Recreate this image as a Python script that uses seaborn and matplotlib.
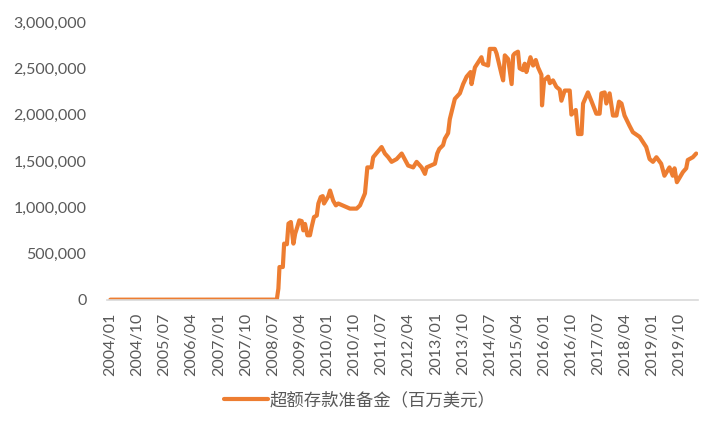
import pandas as pd
import numpy as np
import seaborn as sns
import matplotlib.pyplot as plt
import matplotlib.dates as mdates
from matplotlib.ticker import FuncFormatter

# excess reserves, millions of USD
dates = ['2004-01-01', '2005-06-01', '2006-09-01', '2007-12-01', '2008-08-09',
         '2008-08-25', '2008-09-05', '2008-10-09', '2008-10-22', '2008-11-19',
         '2008-12-05', '2008-12-29', '2009-01-24', '2009-02-11', '2009-03-04',
         '2009-03-24', '2009-04-18', '2009-05-04', '2009-05-21', '2009-06-14',
         '2009-07-10', '2009-07-27', '2009-08-20', '2009-09-17', '2009-10-03',
         '2009-10-27', '2009-11-16', '2009-11-29', '2010-01-12', '2010-01-29',
         '2010-03-02', '2010-03-29', '2010-04-22', '2010-07-15', '2010-08-18',
         '2010-10-25', '2010-11-28', '2011-01-17', '2011-02-10', '2011-03-24',
         '2011-04-10', '2011-07-04', '2011-08-06', '2011-09-09', '2011-10-13',
         '2011-12-03', '2012-01-23', '2012-03-28', '2012-05-18', '2012-06-22',
         '2012-08-11', '2012-09-14', '2012-10-01', '2012-12-24', '2013-01-16',
         '2013-02-06', '2013-03-16', '2013-04-03', '2013-05-06', '2013-05-23',
         '2013-07-13', '2013-09-02', '2013-10-05', '2013-11-09', '2013-12-19',
         '2013-12-29', '2014-02-01', '2014-04-08', '2014-04-24', '2014-06-14',
         '2014-07-01', '2014-08-21', '2014-09-08', '2014-10-27', '2014-11-13',
         '2014-11-30', '2015-01-03', '2015-02-07', '2015-02-23', '2015-03-10',
         '2015-04-12', '2015-04-29', '2015-06-02', '2015-06-19', '2015-07-06',
         '2015-08-16', '2015-09-12', '2015-10-09', '2015-11-01', '2015-12-05',
         '2015-12-11', '2016-01-01', '2016-02-11', '2016-02-28', '2016-03-31',
         '2016-05-04', '2016-06-07', '2016-06-24', '2016-07-27', '2016-09-16',
         '2016-10-03', '2016-11-16', '2016-12-09', '2017-01-13', '2017-01-29',
         '2017-03-19', '2017-04-22', '2017-06-12', '2017-07-15', '2017-08-02',
         '2017-09-04', '2017-09-21', '2017-10-24', '2017-11-27', '2018-01-01',
         '2018-01-27', '2018-02-21', '2018-03-24', '2018-05-13', '2018-06-16',
         '2018-08-23', '2018-10-29', '2018-12-02', '2019-01-05', '2019-02-09',
         '2019-03-29', '2019-05-01', '2019-06-21', '2019-07-24', '2019-08-11',
         '2019-09-04', '2019-11-04', '2019-12-07', '2019-12-23', '2020-02-12',
         '2020-03-17']
reserves = [1500, 1800, 1700, 1900, 2000,
            121000, 354000, 354000, 607000, 600000,
            823000, 840000, 607000, 715000, 786000,
            858000, 850000, 750000, 820000, 697000,
            697000, 786000, 894000, 910000, 1040000,
            1110000, 1120000, 1040000, 1120000, 1180000,
            1070000, 1020000, 1040000, 1000000, 985000,
            985000, 1020000, 1150000, 1430000, 1430000,
            1540000, 1650000, 1580000, 1540000, 1490000,
            1520000, 1580000, 1450000, 1430000, 1490000,
            1430000, 1360000, 1430000, 1470000, 1580000,
            1630000, 1670000, 1740000, 1800000, 1950000,
            2170000, 2230000, 2330000, 2410000, 2460000,
            2330000, 2510000, 2620000, 2550000, 2530000,
            2710000, 2710000, 2660000, 2440000, 2370000,
            2640000, 2600000, 2330000, 2640000, 2660000,
            2680000, 2500000, 2480000, 2550000, 2460000,
            2620000, 2530000, 2590000, 2510000, 2430000,
            2100000, 2370000, 2410000, 2340000, 2370000,
            2300000, 2270000, 2150000, 2260000, 2260000,
            2000000, 2050000, 1790000, 1790000, 2120000,
            2240000, 2150000, 2010000, 2010000, 2230000,
            2240000, 2120000, 2230000, 1990000, 1990000,
            2140000, 2120000, 1990000, 1880000, 1810000,
            1760000, 1650000, 1520000, 1490000, 1540000,
            1470000, 1340000, 1430000, 1340000, 1420000,
            1270000, 1380000, 1420000, 1510000, 1540000,
            1580000]
tick_dates = pd.date_range('2004-01-01', '2019-10-01', freq='9MS')
label = '超额存款准备金（百万美元）'

df = pd.DataFrame({'date': pd.to_datetime(dates), 'value': reserves})

sns.set_style('white')
plt.rcParams['font.family'] = ['Lato', 'DejaVu Sans']

fig = plt.figure(figsize=(7.2, 4.32), dpi=100)
ax = fig.add_axes([0.149, 0.306, 0.82, 0.643])
sns.lineplot(data=df, x='date', y='value', ax=ax, color='#ED7D31', linewidth=3,
             label=label, legend=False)

ax.set_ylim(0, 3000000)
ax.set_yticks(np.arange(0, 3000001, 500000))
ax.yaxis.set_major_formatter(FuncFormatter(lambda v, p: f'{int(v):,}'))
ax.set_xlim(pd.Timestamp('2003-12-01'), pd.Timestamp('2020-04-01'))
ax.set_xticks(tick_dates)
ax.xaxis.set_major_formatter(mdates.DateFormatter('%Y/%m'))
ax.tick_params(axis='x', rotation=90, labelsize=11.5, colors='#595959', length=0, pad=9)
ax.tick_params(axis='y', labelsize=11.5, colors='#595959', length=0, pad=15)
ax.set_xlabel('')
ax.set_ylabel('')

for s in ['top', 'right', 'left']:
    ax.spines[s].set_visible(False)
ax.spines['bottom'].set_color('#d9d9d9')
ax.spines['bottom'].set_linewidth(1.2)

handles, labels = ax.get_legend_handles_labels()
fig.legend(handles, labels, loc='center', bbox_to_anchor=(0.5, 0.074), frameon=False,
           prop={'family': ['Noto Sans CJK SC', 'DejaVu Sans'], 'size': 12.5},
           labelcolor='#595959', handlelength=2.5, handletextpad=0.1)

plt.savefig('out.png', dpi=100)
